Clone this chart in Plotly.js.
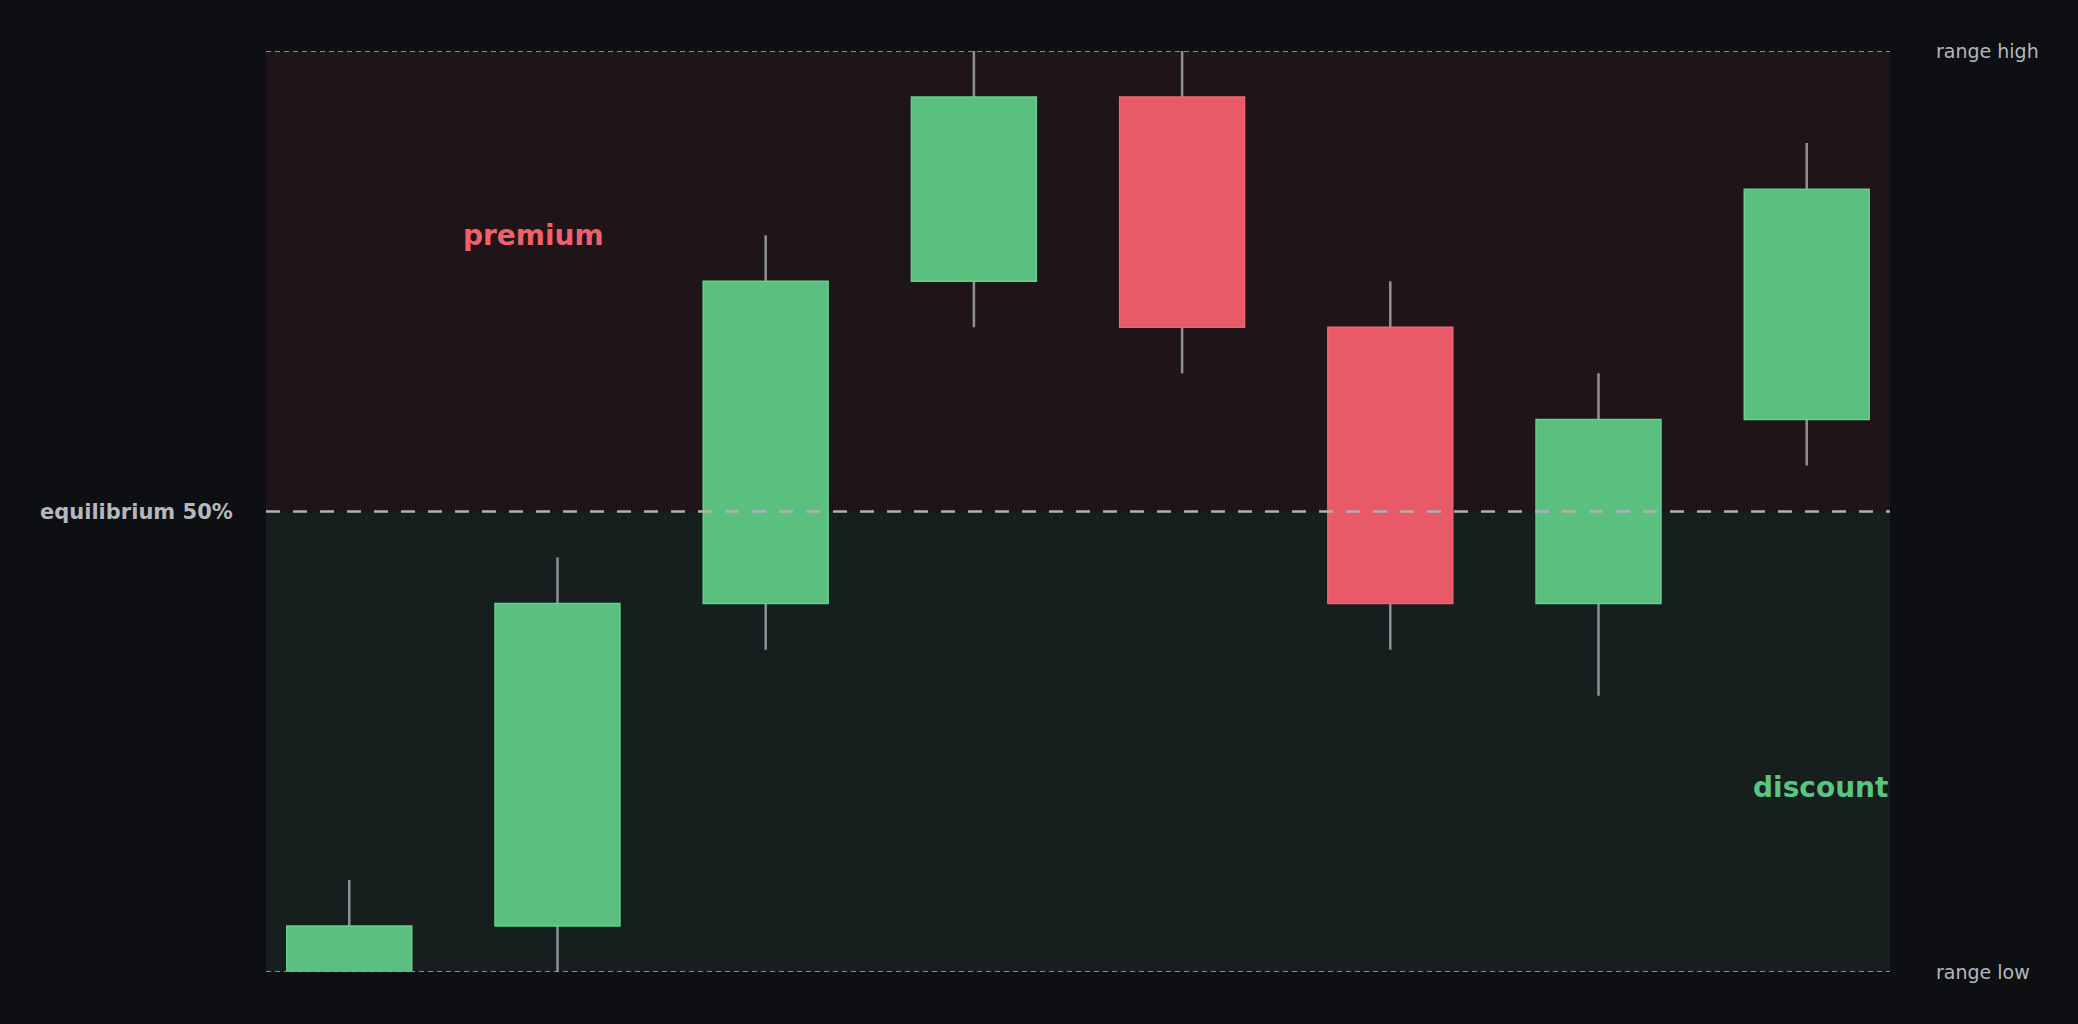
<!DOCTYPE html>
<html>
<head>
<meta charset="utf-8">
<script src="https://cdn.plot.ly/plotly-3.0.1.min.js"></script>
<style>
html, body { margin: 0; padding: 0; background: #0e0f13; }
#chart { width: 2078px; height: 1024px; }
</style>
</head>
<body>
<div id="chart"></div>
<script>
// ---- data ----
var candleIndex = [0, 1, 2, 3, 4, 5, 6, 7];
var openVals  = [0, 5, 40, 75, 95, 70, 40, 60];
var highVals  = [10, 45, 80, 100, 100, 75, 65, 90];
var lowVals   = [0, 0, 35, 70, 65, 35, 30, 55];
var closeVals = [5, 40, 75, 95, 70, 40, 60, 85];
var rangeLow = 0;
var rangeHigh = 100;
var levelLabels = ["range high", "equilibrium 50%", "range low"];
var zoneLabels = ["premium", "discount"];

// ---- styles ----
var GREEN = "#5abf7f", GREEN_EDGE = "#63d28b";
var RED = "#e85a67", RED_EDGE = "#f2646f";
var WICK = "#8e9298";
var equilibrium = (rangeHigh + rangeLow) / 2;

var bodyBase = [], bodyLen = [], bodyFill = [], bodyEdge = [];
var wickBase = [], wickLen = [];
for (var i = 0; i < candleIndex.length; i++) {
  var up = closeVals[i] >= openVals[i];
  bodyBase.push(Math.min(openVals[i], closeVals[i]));
  bodyLen.push(Math.abs(closeVals[i] - openVals[i]));
  bodyFill.push(up ? GREEN : RED);
  bodyEdge.push(up ? GREEN_EDGE : RED_EDGE);
  wickBase.push(lowVals[i]);
  wickLen.push(highVals[i] - lowVals[i]);
}

var traces = [
  {
    type: "bar", x: candleIndex, y: wickLen, base: wickBase, width: 0.012,
    marker: { color: WICK, line: { width: 0 } }, hoverinfo: "skip", showlegend: false
  },
  {
    type: "bar", x: candleIndex, y: bodyLen, base: bodyBase, width: 0.6,
    marker: { color: bodyFill, line: { color: bodyEdge, width: 1.5 } },
    hoverinfo: "skip", showlegend: false
  }
];

var layout = {
  width: 2078, height: 1024,
  paper_bgcolor: "#0e0f13", plot_bgcolor: "#0e0f13",
  margin: { l: 266, r: 188, t: 51, b: 52, pad: 0 },
  barmode: "overlay",
  showlegend: false,
  font: { family: "DejaVu Sans", color: "#b4b7bd" },
  xaxis: { range: [-0.4, 7.4], visible: false, fixedrange: true },
  yaxis: { range: [rangeLow, rangeHigh], visible: false, fixedrange: true },
  shapes: [
    { type: "rect", xref: "paper", yref: "y", x0: 0, x1: 1, y0: equilibrium, y1: rangeHigh,
      fillcolor: "#1f1519", line: { width: 0 }, layer: "below" },
    { type: "rect", xref: "paper", yref: "y", x0: 0, x1: 1, y0: rangeLow, y1: equilibrium,
      fillcolor: "#161e1e", line: { width: 0 }, layer: "below" },
    { type: "line", xref: "paper", yref: "y", x0: 0, x1: 1, y0: equilibrium, y1: equilibrium,
      line: { color: "#aeb1b6", width: 2.6, dash: "14px,13px" }, layer: "above" },
    { type: "line", xref: "paper", yref: "y", x0: 0, x1: 1, y0: rangeHigh, y1: rangeHigh,
      line: { color: "#8a8e95", width: 2, dash: "5px,4px" }, layer: "above" },
    { type: "line", xref: "paper", yref: "y", x0: 0, x1: 1, y0: rangeLow, y1: rangeLow,
      line: { color: "#8a8e95", width: 2, dash: "5px,4px" }, layer: "above" }
  ],
  annotations: [
    { xref: "paper", yref: "y", x: 1, y: rangeHigh, xshift: 44, xanchor: "left", yanchor: "middle",
      text: levelLabels[0], showarrow: false, font: { family: "DejaVu Sans", size: 19, color: "#b4b7bd" } },
    { xref: "paper", yref: "y", x: 1, y: rangeLow, xshift: 44, xanchor: "left", yanchor: "middle",
      text: levelLabels[2], showarrow: false, font: { family: "DejaVu Sans", size: 19, color: "#b4b7bd" } },
    { xref: "paper", yref: "y", x: 0, y: equilibrium, xshift: -31, xanchor: "right", yanchor: "middle",
      text: "<b>" + levelLabels[1] + "</b>", showarrow: false,
      font: { family: "DejaVu Sans", size: 21, color: "#b4b7bd" } },
    { xref: "x", yref: "y", x: 0.885, y: 80, xanchor: "center", yanchor: "middle",
      text: "<b>" + zoneLabels[0] + "</b>", showarrow: false,
      font: { family: "DejaVu Sans", size: 28, color: "#f0616d" } },
    { xref: "paper", yref: "y", x: 1, y: 20, xanchor: "right", yanchor: "middle",
      text: "<b>" + zoneLabels[1] + "</b>", showarrow: false,
      font: { family: "DejaVu Sans", size: 28, color: "#5ac580" } }
  ]
};

Plotly.newPlot("chart", traces, layout, { displayModeBar: false, staticPlot: true });
</script>
</body>
</html>
